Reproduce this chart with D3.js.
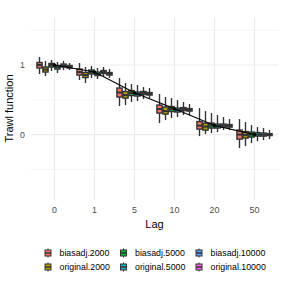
<!DOCTYPE html>
<html><head><meta charset="utf-8">
<script src="https://cdn.jsdelivr.net/npm/d3@7"></script>
<style>body{margin:0;background:#fff}svg{display:block}text{font-family:"Liberation Sans",Arial,sans-serif}</style>
</head><body><svg id="c" width="284" height="284"></svg>
<script>
const lags = ["0","1","5","10","20","50"];
const series = ["biasadj.2000","original.2000","biasadj.5000","original.5000","biasadj.10000","original.10000"];
const colors = ["#F8766D","#B79F00","#00BA38","#00BFC4","#619CFF","#F564E3"];
const trueValues = [1.0, 0.9, 0.6, 0.37, 0.13, 0.0];
const yBreaks = [0, 1];
const yMinor = [-0.5, 0.5, 1.5];
// [lower whisker, q1, median, q3, upper whisker] per lag, per series
const lag0 = [[0.870,0.957,1.0,1.036,1.115],[0.842,0.899,0.935,0.971,1.058],[0.914,0.971,1.0,1.022,1.072],[0.885,0.942,0.971,0.993,1.043],[0.928,0.971,0.993,1.014,1.058],[0.928,0.957,0.971,0.993,1.029]];
const lag1 = [[0.784,0.856,0.899,0.942,1.029],[0.741,0.820,0.856,0.892,0.971],[0.813,0.871,0.899,0.928,0.986],[0.799,0.849,0.871,0.899,0.957],[0.834,0.878,0.899,0.921,0.971],[0.813,0.856,0.871,0.892,0.942]];
const lag5 = [[0.410,0.540,0.604,0.669,0.813],[0.424,0.525,0.568,0.619,0.741],[0.468,0.561,0.597,0.633,0.727],[0.482,0.554,0.583,0.612,0.712],[0.511,0.576,0.597,0.619,0.683],[0.525,0.568,0.583,0.604,0.669]];
const lag10 = [[0.165,0.309,0.367,0.424,0.583],[0.209,0.295,0.338,0.396,0.540],[0.237,0.331,0.367,0.403,0.525],[0.252,0.324,0.353,0.381,0.496],[0.281,0.345,0.367,0.388,0.468],[0.281,0.338,0.353,0.374,0.439]];
const lag20 = [[-0.022,0.079,0.129,0.187,0.381],[0.007,0.065,0.115,0.165,0.338],[0.022,0.094,0.129,0.165,0.309],[0.036,0.094,0.122,0.151,0.281],[0.065,0.108,0.129,0.151,0.252],[0.065,0.108,0.122,0.144,0.223]];
const lag50 = [[-0.194,-0.065,0.0,0.065,0.223],[-0.165,-0.050,-0.007,0.043,0.180],[-0.122,-0.036,0.0,0.036,0.137],[-0.094,-0.022,0.0,0.029,0.108],[-0.079,-0.022,0.0,0.022,0.094],[-0.065,-0.014,0.0,0.014,0.065]];
const boxStats = [lag0, lag1, lag5, lag10, lag20, lag50];

const svg = d3.select("#c");
const L = 30.5, R = 278.5, T = 17, B = 200;
const x = d3.scalePoint().domain(lags).range([L, R]).padding(0.6);
const dodge = d3.scaleBand().domain(series).range([-18, 18]).paddingInner(0);
const y = d3.scaleLinear().domain([-0.94, 1.69]).range([B, T]);
const col = d3.scaleOrdinal().domain(series).range(colors);

const grid = svg.append("g");
yMinor.forEach(v => grid.append("line").attr("x1", L).attr("x2", R).attr("y1", y(v)).attr("y2", y(v)).attr("stroke", "#EBEBEB").attr("stroke-width", 0.55));
yBreaks.forEach(v => grid.append("line").attr("x1", L).attr("x2", R).attr("y1", y(v)).attr("y2", y(v)).attr("stroke", "#EBEBEB").attr("stroke-width", 1.1));
lags.forEach(l => grid.append("line").attr("x1", x(l)).attr("x2", x(l)).attr("y1", T).attr("y2", B).attr("stroke", "#EBEBEB").attr("stroke-width", 1.1));

const bw = dodge.bandwidth();
const sw = 1.4;
lags.forEach((l, li) => {
  series.forEach((s, si) => {
    const st = boxStats[li][si];
    const cx = x(l) + dodge(s) + bw / 2;
    const g = svg.append("g");
    g.append("line").attr("x1", cx).attr("x2", cx).attr("y1", y(st[4])).attr("y2", y(st[3])).attr("stroke", "#333333").attr("stroke-width", sw);
    g.append("line").attr("x1", cx).attr("x2", cx).attr("y1", y(st[1])).attr("y2", y(st[0])).attr("stroke", "#333333").attr("stroke-width", sw);
    g.append("rect").attr("x", x(l) + dodge(s) + 0.4).attr("width", bw - 0.8)
      .attr("y", y(st[3])).attr("height", Math.max(0.5, y(st[1]) - y(st[3])))
      .attr("fill", col(s)).attr("stroke", "#333333").attr("stroke-width", sw);
    g.append("line").attr("x1", x(l) + dodge(s) + 0.4).attr("x2", x(l) + dodge(s) + bw - 0.4)
      .attr("y1", y(st[2])).attr("y2", y(st[2])).attr("stroke", "#333333").attr("stroke-width", 2);
  });
});

const line = d3.line().x((d, i) => x(lags[i])).y(d => y(d));
svg.append("path").attr("d", line(trueValues)).attr("fill", "none").attr("stroke", "#000").attr("stroke-width", 1.1);
svg.selectAll("circle.t").data(trueValues).enter().append("circle")
  .attr("cx", (d, i) => x(lags[i])).attr("cy", d => y(d)).attr("r", 1.7).attr("fill", "#000");

// axes text
lags.forEach(l => svg.append("text").attr("x", x(l)).attr("y", 213).attr("text-anchor", "middle")
  .attr("font-size", 8.8).attr("fill", "#4D4D4D").text(l));
yBreaks.forEach(v => svg.append("text").attr("x", 25).attr("y", y(v) + 3.1).attr("text-anchor", "end")
  .attr("font-size", 8.8).attr("fill", "#4D4D4D").text(v));
svg.append("text").attr("x", (L + R) / 2).attr("y", 228).attr("text-anchor", "middle").attr("font-size", 11).attr("fill", "#000").text("Lag");
svg.append("text").attr("transform", `translate(12.5,${(T + B) / 2}) rotate(-90)`).attr("text-anchor", "middle").attr("font-size", 11).attr("fill", "#000").text("Trawl function");

// legend
const legX = [48, 123.5, 199];
series.forEach((s, i) => {
  const c = Math.floor(i / 2), r = i % 2;
  const kx = legX[c], ky = 253 + r * 14;
  const g = svg.append("g");
  g.append("line").attr("x1", kx).attr("x2", kx).attr("y1", ky - 4.5).attr("y2", ky + 4.5).attr("stroke", "#333333").attr("stroke-width", 1);
  g.append("rect").attr("x", kx - 3).attr("y", ky - 3).attr("width", 6).attr("height", 6).attr("fill", col(s)).attr("stroke", "#333333").attr("stroke-width", 1);
  g.append("line").attr("x1", kx - 3).attr("x2", kx + 3).attr("y1", ky).attr("y2", ky).attr("stroke", "#333333").attr("stroke-width", 1.5);
  svg.append("text").attr("x", kx + 11.5).attr("y", ky + 3.1).attr("font-size", 8.8).attr("fill", "#000").text(s);
});
</script></body></html>
